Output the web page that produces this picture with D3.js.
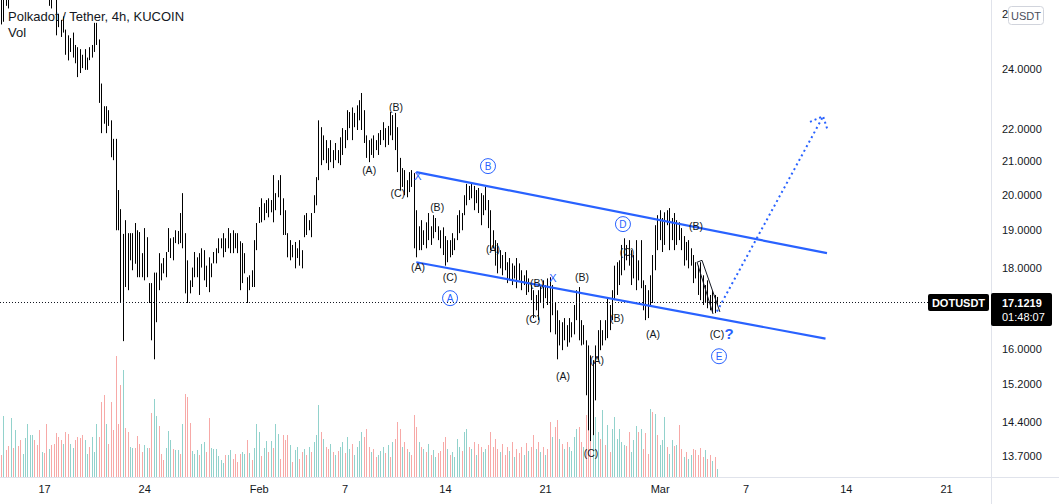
<!DOCTYPE html>
<html><head><meta charset="utf-8">
<script src="https://cdn.jsdelivr.net/npm/d3@7"></script>
<style>
body{margin:0;background:#fff;}
svg{display:block;font-family:"Liberation Sans",Arial,sans-serif;}
</style>
</head><body>
<svg id="chart" width="1059" height="504"></svg>
<script>
// ---------------- DATA ----------------
const title = "Polkadot / Tether, 4h, KUCOIN";
const firstBar = "2022-01-14T00:00:00Z";   // 4h bars
const barHours = 4;
const highs = [
27.0,26.9,27.1,27.0,27.6,27.9,28.3,28.0,28.6,28.9,
28.5,28.8,28.4,28.1,28.3,27.8,27.9,28.2,27.7,27.5,
28.0,27.6,27.3,26.6,26.0,25.77,25.9,25.41,25.2,25.1,
25.3,24.85,24.77,24.7,24.5,24.7,24.4,24.77,24.85,25.66,
25.66,25.05,23.5,22.74,22.74,22.61,22.28,21.69,21.69,20.14,
19.59,18.9,19.28,18.92,18.92,18.92,19.2,19.0,18.95,18.38,
19.06,18.81,17.6,17.6,17.87,17.87,18.38,18.11,18.25,18.41,
19.06,18.78,18.81,19.0,18.98,19.48,20.05,18.92,18.19,17.67,
18.0,18.41,18.27,18.38,18.51,18.46,18.05,18.27,18.11,18.41,
18.51,18.78,18.78,18.92,18.78,19.06,18.92,19.0,18.92,18.92,
18.7,18.65,18.38,17.75,17.8,17.93,18.73,19.2,19.65,19.9,
19.76,19.85,19.9,19.85,20.58,20.05,20.43,20.58,19.9,19.56,
18.92,18.73,18.6,18.68,18.51,18.73,18.46,19.42,19.48,19.28,
19.48,19.99,20.52,22.28,22.06,21.8,21.65,21.4,21.65,21.34,
21.56,21.34,21.74,22.03,21.97,22.61,22.55,22.7,22.52,22.77,
22.94,23.18,22.61,21.8,21.65,21.7,21.8,21.65,21.87,21.97,
22.22,22.03,22.1,22.55,22.45,22.52,22.06,21.1,20.79,20.73,
20.43,20.67,20.73,20.64,19.56,19.11,19.28,19.0,19.22,19.48,
19.11,19.42,19.34,19.11,19.0,19.08,18.84,18.73,18.73,18.92,
18.78,19.42,19.56,19.48,19.99,20.32,20.26,20.32,20.26,20.14,
20.2,20.05,19.99,20.23,19.85,19.56,19.0,18.73,18.65,18.46,
18.33,18.41,18.14,18.25,18.11,18.05,18.25,18.11,17.93,17.8,
17.93,17.72,17.55,17.42,17.3,17.42,17.55,17.67,17.55,17.72,
17.75,17.55,17.1,16.92,16.68,16.63,16.73,16.56,16.73,16.63,
17.05,17.42,17.5,16.68,16.56,16.2,16.08,15.85,15.74,16.08,
16.44,16.68,16.44,16.68,17.22,17.05,17.42,18.05,18.14,18.19,
18.6,18.78,18.6,18.73,18.46,18.33,18.73,18.19,18.73,17.67,
17.55,17.42,17.8,18.33,19.14,19.42,19.56,19.34,19.5,19.56,
19.62,19.34,19.48,19.28,19.22,19.06,18.84,18.68,18.73,18.51,
18.33,18.14,18.05,18.14,17.8,17.55,17.67,17.3,17.42,17.3,
17.25];
const lows = [
25.6,25.7,26.3,26.2,26.7,26.9,27.2,27.1,27.4,27.8,
27.6,27.5,27.3,27.0,27.2,26.9,26.8,27.1,26.8,26.7,
26.3,26.2,26.6,25.2,25.5,25.14,25.3,24.5,24.3,24.6,
24.4,24.2,23.72,23.86,24.03,23.97,23.97,24.31,24.4,24.6,
24.85,22.85,21.87,22.17,21.87,22.1,21.12,21.03,19.0,19.0,
17.12,16.18,17.5,17.42,18.19,17.93,18.1,17.75,17.75,17.75,
17.67,17.75,17.1,16.2,15.76,16.63,17.42,17.67,17.85,17.75,
18.41,18.25,18.19,18.65,18.62,18.65,18.51,17.34,17.1,17.34,
17.5,17.75,17.75,17.3,18.0,17.67,17.5,17.37,17.75,18.11,
18.11,18.38,18.51,18.27,18.41,18.51,18.38,18.38,18.51,18.38,
17.42,17.6,17.85,17.1,17.42,17.5,17.5,18.46,19.2,19.22,
19.28,19.48,19.36,19.5,19.22,19.56,19.93,19.42,18.87,18.87,
18.27,18.19,18.27,17.98,18.25,18.05,17.98,18.81,18.87,19.0,
18.81,19.48,19.7,20.43,20.88,21.03,20.94,20.73,20.97,20.79,
21.03,20.94,20.88,21.19,21.4,21.65,22.03,21.65,22.06,21.97,
22.28,21.97,21.56,21.1,20.97,21.19,21.1,21.34,21.19,21.5,
21.65,21.43,21.5,21.8,21.65,21.34,20.67,20.14,20.23,19.99,
19.93,20.08,20.23,18.51,18.27,18.46,18.46,18.6,18.51,18.73,
18.6,18.78,18.95,18.73,18.51,18.33,18.05,18.14,18.27,18.33,
18.46,18.73,18.92,19.0,19.42,19.7,19.85,19.9,19.56,19.76,
19.48,19.14,19.42,19.56,19.06,18.46,18.51,18.05,17.85,17.98,
17.8,17.93,17.6,17.67,17.55,17.72,17.47,17.67,17.42,17.55,
17.3,17.37,17.17,16.73,16.92,16.68,17.1,16.97,17.22,17.05,
16.39,16.8,16.34,15.76,16.08,15.97,16.2,16.05,16.15,16.27,
16.34,16.68,16.2,16.08,16.1,14.96,14.22,14.0,14.12,14.85,
15.74,15.97,16.08,16.2,16.25,16.44,16.68,17.17,17.3,17.55,
17.8,17.93,18.19,18.05,17.55,17.72,17.42,17.67,17.47,16.92,
16.68,16.73,17.05,17.1,17.93,18.46,18.73,18.41,18.6,19.14,
18.46,18.73,18.46,18.6,18.73,18.46,18.05,18.19,17.98,18.05,
17.6,17.72,17.3,17.17,17.05,17.1,16.97,16.92,16.87,16.85,
17.05];
// volume (x10k DOT), and 1 = up bar (teal), 0 = down bar (red)
const volumes = [
22,61,27,31,59,29,47,31,37,23, 39,53,42,42,37,32,47,25,24,53,
28,32,33,44,40,37,33,45,43,33, 29,37,40,39,42,37,23,30,40,25,
53,40,75,82,53,33,75,47,121,53, 92,107,49,45,30,29,29,41,33,25,
32,29,29,64,78,61,51,23,17,29, 46,37,28,27,27,23,53,83,80,54,
26,23,27,22,33,35,25,59,29,28, 28,21,17,14,22,22,27,18,23,15,
23,25,23,37,24,17,29,53,45,21, 29,36,25,36,29,53,43,18,42,37,
42,32,15,27,30,18,25,28,22,30, 25,35,42,72,45,38,30,28,33,25,
22,26,30,35,24,40,28,33,22,30, 36,45,40,48,30,25,28,20,22,26,
30,24,32,20,35,38,55,48,30,35, 28,25,22,62,50,35,30,28,25,33,
22,27,20,24,26,35,40,28,22,25, 20,38,30,26,45,48,30,28,35,22,
33,30,25,28,32,45,30,38,28,25, 33,22,30,26,35,20,28,24,30,22,
34,26,30,42,28,35,25,30,22,28, 55,40,50,57,38,33,28,35,30,26,
40,48,50,35,30,62,70,74,77,60, 45,38,67,32,52,25,48,60,38,48,
35,32,31,45,25,37,51,45,48,28, 44,23,68,65,63,42,32,37,60,30,
23,37,31,32,52,28,20,25,18,22, 28,27,22,29,20,27,18,22,16,20,
8];
const volUp = [
0,1,0,0,1,0,1,0,0,1, 1,1,1,1,0,0,0,1,0,0,
1,0,0,0,0,0,1,0,0,1, 1,0,0,0,0,1,1,0,1,1,
1,0,0,0,1,0,0,0,0,0, 0,1,0,0,1,1,0,0,0,0,
1,1,0,0,1,1,0,0,0,1, 1,1,0,1,1,0,1,0,0,0,
1,1,1,0,1,1,0,0,1,1, 1,1,1,1,0,1,1,0,0,0,
0,1,1,0,1,0,1,1,1,0, 1,1,0,1,0,1,1,0,0,0,
0,1,0,1,1,0,0,1,0,1, 0,1,1,1,0,1,0,0,1,0,
1,0,1,1,0,1,1,0,1,1, 1,1,0,0,0,1,0,0,1,1,
1,0,1,0,1,0,0,0,1,0, 0,1,0,0,0,1,0,1,0,1,
0,1,1,0,0,0,0,1,0,1, 1,1,1,0,1,1,0,1,0,1,
0,0,1,1,0,0,0,0,0,1, 0,0,0,1,0,1,0,0,0,1,
0,1,0,0,1,0,1,0,1,0, 0,1,0,0,1,0,1,0,1,1,
1,1,0,0,1,0,0,0,1,1, 1,0,1,0,1,0,1,1,1,1,
1,1,0,0,1,1,1,0,1,0, 0,0,1,0,1,0,1,1,1,0,
1,1,0,1,0,0,1,0,1,1, 0,0,0,0,0,1,0,0,1,0,
1];
const lastPrice = 17.1219;
const countdown = "01:48:07";
const symbolTag = "DOTUSDT";
const currencyTag = "USDT";
const priceTicks = [26, 24, 22, 21, 20, 19, 18, 16, 15.2, 14.4, 13.7];
const dateTicks = ["2022-01-17","2022-01-24","2022-02-01","2022-02-07","2022-02-14","2022-02-21","2022-03-01","2022-03-07","2022-03-14","2022-03-21"];
const dateTickLabels = ["17","24","Feb","7","14","21","Mar","7","14","21"];
// drawings: [time, price]
const channelUpper = [["2022-02-12T00:00Z",20.67],["2022-03-12T16:30Z",18.38]];
const channelLower = [["2022-02-12T00:00Z",18.14],["2022-03-12T14:00Z",16.24]];
const projection = [["2022-03-05T00:00Z",16.89],["2022-03-12T10:00Z",22.41]];
const arrowWings = [["2022-03-11T12:00Z",22.23],["2022-03-12T10:00Z",22.41],["2022-03-12T18:00Z",21.94]];
const wedgeLeft = [["2022-03-03T14:40Z",18.14],["2022-03-04T17:30Z",16.83]];
const wedgeRight = [["2022-03-03T23:00Z",18.19],["2022-03-05T05:00Z",16.88]];
const wedgeTop = [["2022-03-03T14:40Z",18.14],["2022-03-03T23:00Z",18.19]];
const waveLabels = [
 ["(A)","2022-02-08T17:00Z",20.73],["(B)","2022-02-10T14:00Z",22.71],["(C)","2022-02-10T17:00Z",20.05],
 ["(B)","2022-02-13T11:00Z",19.65],["(A)","2022-02-12T03:00Z",18.01],["(C)","2022-02-14T08:40Z",17.76],
 ["(A)","2022-02-17T08:40Z",18.49],["(B)","2022-02-20T10:20Z",17.60],["(C)","2022-02-20T03:40Z",16.71],
 ["(B)","2022-02-23T14:00Z",17.76],["(A)","2022-02-22T06:00Z",15.39],["(A)","2022-02-24T15:00Z",15.75],
 ["(B)","2022-02-26T00:30Z",16.73],["(C)","2022-02-24T05:00Z",13.76],["(C)","2022-02-26T17:20Z",18.41],
 ["(A)","2022-02-28T13:00Z",16.34],["(B)","2022-03-03T13:00Z",19.11],["(C)","2022-03-05T00:00Z",16.36]];
const circleLabels = [["B","2022-02-17T00:15Z",20.85],["A","2022-02-14T08:40Z",17.22],["D","2022-02-26T10:30Z",19.17],["E","2022-03-05T03:30Z",15.83]];
const crossMarks = [["2022-02-12T03:00Z",20.55],["2022-02-21T13:00Z",17.73]];
const questionMark = ["2022-03-05T20:20Z",16.36];

// ---------------- CHART ----------------
const W = 1059, H = 504, plotR = 991, plotB = 477;
const svg = d3.select("#chart");
const blue = "#2962ff", ink = "#131722";
const T = s => new Date(s);
const x = d3.scaleUtc().domain([T("2022-01-17T00:00Z"), T("2022-03-21T00:00Z")]).range([44, 946]);
const y = d3.scaleLog().domain([13.7, 24]).range([456, 69]);
const vy = d3.scaleLinear().domain([0, 121]).range([plotB, 356]);
const t0 = T(firstBar).getTime();
const bars = d3.range(highs.length).map(i => ({
  t: new Date(t0 + i * barHours * 3600e3), h: highs[i], l: lows[i],
  v: volumes[i], up: volUp[i] === 1 }));
const px = d => Math.round(x(d)) + 0.5;

svg.append("rect").attr("width", W).attr("height", H).attr("fill", "#fff");
svg.append("defs").append("clipPath").attr("id", "clip")
  .append("rect").attr("x", 0).attr("y", 0).attr("width", plotR).attr("height", plotB);

// separators
svg.append("line").attr("x1", 0).attr("x2", W).attr("y1", plotB + 0.5).attr("y2", plotB + 0.5)
  .attr("stroke", "#e0e3eb");
svg.append("line").attr("x1", plotR + 0.5).attr("x2", plotR + 0.5).attr("y1", 0).attr("y2", H)
  .attr("stroke", "#e0e3eb");

const plot = svg.append("g").attr("clip-path", "url(#clip)");

// volume
plot.append("g").selectAll("line").data(bars).join("line")
  .attr("x1", d => px(d.t)).attr("x2", d => px(d.t))
  .attr("y1", d => vy(d.v)).attr("y2", plotB)
  .attr("stroke", d => d.up ? "#26a69a" : "#ef5350")
  .attr("stroke-opacity", 0.5).attr("stroke-width", 1);

// price bars (high-low)
plot.append("g").selectAll("line").data(bars).join("line")
  .attr("x1", d => px(d.t)).attr("x2", d => px(d.t))
  .attr("y1", d => y(d.h)).attr("y2", d => y(d.l))
  .attr("stroke", "#000").attr("stroke-width", 1);

// last price line
const yLast = Math.round(y(lastPrice)) + 0.5;
plot.append("line").attr("x1", 0).attr("x2", 928).attr("y1", yLast).attr("y2", yLast)
  .attr("stroke", ink).attr("stroke-dasharray", "1,2");

// drawings
const line = d3.line().x(d => x(T(d[0]))).y(d => y(d[1]));
const dr = plot.append("g");
[channelUpper, channelLower].forEach(p =>
  dr.append("path").attr("d", line(p)).attr("fill", "none").attr("stroke", blue).attr("stroke-width", 2.2));
[wedgeLeft, wedgeRight, wedgeTop].forEach(p =>
  dr.append("path").attr("d", line(p)).attr("fill", "none").attr("stroke", ink).attr("stroke-width", 1));
dr.append("path").attr("d", line(projection)).attr("fill", "none").attr("stroke", blue)
  .attr("stroke-width", 2).attr("stroke-dasharray", "2,3.2");
dr.append("path").attr("d", line(arrowWings)).attr("fill", "none").attr("stroke", blue)
  .attr("stroke-width", 2).attr("stroke-dasharray", "2,3");

dr.selectAll("text.wave").data(waveLabels).join("text").attr("class", "wave")
  .attr("x", d => x(T(d[1]))).attr("y", d => y(d[2]))
  .attr("text-anchor", "middle").attr("dominant-baseline", "central")
  .attr("font-size", 10.5).attr("fill", ink).text(d => d[0]);

const cg = dr.selectAll("g.circ").data(circleLabels).join("g").attr("class", "circ")
  .attr("transform", d => `translate(${x(T(d[1]))},${y(d[2])})`);
cg.append("circle").attr("r", 7.5).attr("fill", "none").attr("stroke", blue).attr("stroke-width", 1);
cg.append("text").attr("text-anchor", "middle").attr("dominant-baseline", "central")
  .attr("font-size", 10).attr("fill", blue).text(d => d[0]);

dr.selectAll("text.cross").data(crossMarks).join("text").attr("class", "cross")
  .attr("x", d => x(T(d[0]))).attr("y", d => y(d[1]))
  .attr("text-anchor", "middle").attr("dominant-baseline", "central")
  .attr("font-size", 11).attr("fill", blue).text("X");
dr.append("text").attr("x", x(T(questionMark[0]))).attr("y", y(questionMark[1]))
  .attr("text-anchor", "middle").attr("dominant-baseline", "central")
  .attr("font-size", 15).attr("font-weight", "bold").attr("fill", blue).text("?");

// title
svg.append("text").attr("x", 8).attr("y", 21).attr("font-size", 13).attr("fill", ink).text(title);
svg.append("text").attr("x", 8).attr("y", 37).attr("font-size", 13).attr("fill", ink).text("Vol");

// price axis
const ya = svg.append("g").attr("transform", `translate(1002,0)`)
  .call(d3.axisRight(y).tickValues(priceTicks).tickFormat(d3.format(".4f")).tickSize(0).tickPadding(0));
ya.select(".domain").remove();
ya.selectAll("text").attr("font-size", 11).attr("fill", ink).attr("font-family", "Liberation Sans, Arial, sans-serif");

// time axis
const xa = svg.append("g").attr("transform", `translate(0,${plotB + 1})`)
  .call(d3.axisBottom(x).tickValues(dateTicks.map(s => T(s + "T00:00Z")))
    .tickFormat((d, i) => dateTickLabels[i]).tickSize(0).tickPadding(7));
xa.select(".domain").remove();
xa.selectAll("text").attr("font-size", 11).attr("fill", ink).attr("font-family", "Liberation Sans, Arial, sans-serif");

// currency badge
svg.append("rect").attr("x", 1008.5).attr("y", 6.5).attr("width", 35).attr("height", 18).attr("rx", 3)
  .attr("fill", "#fff").attr("stroke", "#d1d4dc");
svg.append("text").attr("x", 1026).attr("y", 16).attr("text-anchor", "middle").attr("dominant-baseline", "central")
  .attr("font-size", 11).attr("fill", "#4a4f5c").text(currencyTag);

// symbol tag and last price label
svg.append("rect").attr("x", 928).attr("y", yLast - 8.5).attr("width", 61).attr("height", 17).attr("rx", 2).attr("fill", "#000");
svg.append("text").attr("x", 958.5).attr("y", yLast).attr("text-anchor", "middle").attr("dominant-baseline", "central")
  .attr("font-size", 11).attr("font-weight", "bold").attr("fill", "#fff").text(symbolTag);
svg.append("rect").attr("x", 991).attr("y", yLast - 9.5).attr("width", 61).attr("height", 33).attr("rx", 2).attr("fill", "#000");
svg.append("text").attr("x", 1002).attr("y", yLast).attr("dominant-baseline", "central")
  .attr("font-size", 11).attr("font-weight", "bold").attr("fill", "#fff").text(d3.format(".4f")(lastPrice));
svg.append("text").attr("x", 1002).attr("y", yLast + 14).attr("dominant-baseline", "central")
  .attr("font-size", 11).attr("fill", "#fff").text(countdown);
</script>
</body></html>
